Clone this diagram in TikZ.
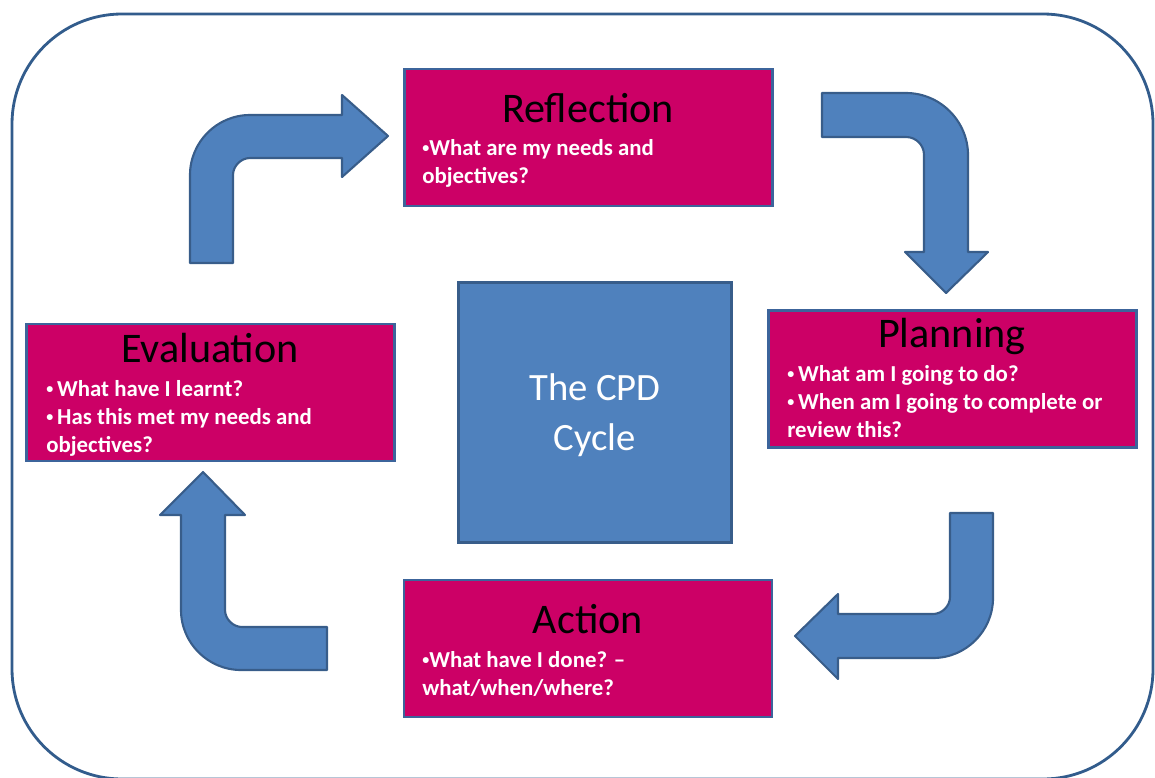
\documentclass[tikz,border=0pt]{standalone}
\usepackage{fontspec}
\setmainfont{Carlito}
\definecolor{framecol}{RGB}{50,92,140}
\definecolor{arrowfill}{RGB}{79,129,189}
\definecolor{arrowline}{RGB}{56,93,138}
\definecolor{stagefill}{RGB}{204,0,102}
\definecolor{stageline}{RGB}{60,100,155}
\newcommand{\blt}{{\fontsize{8}{8}\selectfont\raisebox{0.35ex}{•}}}
\tikzset{
  x=0.02cm, y=-0.02cm,
  frame/.style={draw=framecol, line width=1.6pt, rounded corners=2.2cm},
  bentarrow/.style={fill=arrowfill, draw=arrowline, line width=1.2pt, line join=round},
  stagebox/.style={rectangle, fill=stagefill, draw=stageline, line width=1.6pt,
    minimum width=7.36cm, minimum height=2.74cm, inner sep=0pt},
  stagetitle/.style={font=\fontsize{24}{28}\selectfont, text=black, inner sep=0pt},
  stagetext/.style={font=\fontsize{13}{15.9}\selectfont\bfseries, text=white,
    align=left, inner sep=0pt},
  cpdbox/.style={rectangle, fill=arrowfill, draw=arrowline, line width=1.2pt,
    minimum width=5.46cm, minimum height=5.2cm},
  cpdtext/.style={font=\fontsize{22}{28.3}\selectfont, text=white, align=center},
}

\begin{document}
\begin{tikzpicture}
  \useasboundingbox (0,0) rectangle (1155,777);
  \draw[frame] (12,14) rectangle (1153,779);

  % the four stages
  \node[stagebox] (refl) at (588.5,137.5) {};
  \node[stagebox] (plan) at (952.5,379) {};
  \node[stagebox] (eval) at (210.5,392.5) {};
  \node[stagebox] (act) at (588,648.5) {};
  \node[cpdbox] (cpd) at (595,412.5) {};

  % base of a text block = its last line
  \node[stagetitle, anchor=base] (refltitle) at (588,122) {Reflection};
  \node[stagetext, anchor=base west] (refltext) at (422,183)
    {\blt What are my needs and\\objectives?};
  \node[stagetitle, anchor=base] (plantitle) at (952,347) {Planning};
  \node[stagetext, anchor=base west] (plantext) at (787,437)
    {\blt\,What am I going  to do?\\\blt\,When am I going to complete or\\review this?};
  \node[stagetitle, anchor=base] (evaltitle) at (210,362) {Evaluation};
  \node[stagetext, anchor=base west] (evaltext) at (46,452)
    {\blt\,What have I learnt?\\\blt\,Has this met my needs and\\objectives?};
  \node[stagetitle, anchor=base] (acttitle) at (588,633) {Action};
  \node[stagetext, anchor=base west] (acttext) at (422,695)
    {\blt What have I done? --\\what/when/where?};
  \node[cpdtext] (cpdlabel) at ([yshift=-0.06cm]cpd.center) {The CPD\\Cycle};

  % bent arrows between the stages
  \draw[bentarrow] (190,263) -- (190,175) .. controls (190,142) and (217,115) .. (250,115)
    -- (342,115) -- (342,95) -- (388,136) -- (342,177) -- (342,158) -- (250,158)
    .. controls (241,158) and (233,166) .. (233,175) -- (233,263) -- cycle;
  \draw[bentarrow] (822,93) -- (906,93) .. controls (940,93) and (968,121) .. (968,155)
    -- (968,252) -- (988,252) -- (946,293) -- (905,252) -- (924,252) -- (924,155)
    .. controls (924,145) and (916,137) .. (906,137) -- (822,137) -- cycle;
  \draw[bentarrow] (950,513) -- (993,513) -- (993,598) .. controls (993,631) and (966,658) .. (933,658)
    -- (838,658) -- (838,679) -- (795,636) -- (838,594) -- (838,614) -- (933,614)
    .. controls (942,614) and (950,606) .. (950,597) -- cycle;
  \draw[bentarrow] (327,627) -- (327,670) -- (241,670) .. controls (208,670) and (181,643) .. (181,610)
    -- (181,515) -- (160,515) -- (203,472) -- (245,515) -- (225,515) -- (225,610)
    .. controls (225,619) and (233,627) .. (242,627) -- cycle;
\end{tikzpicture}
\end{document}
